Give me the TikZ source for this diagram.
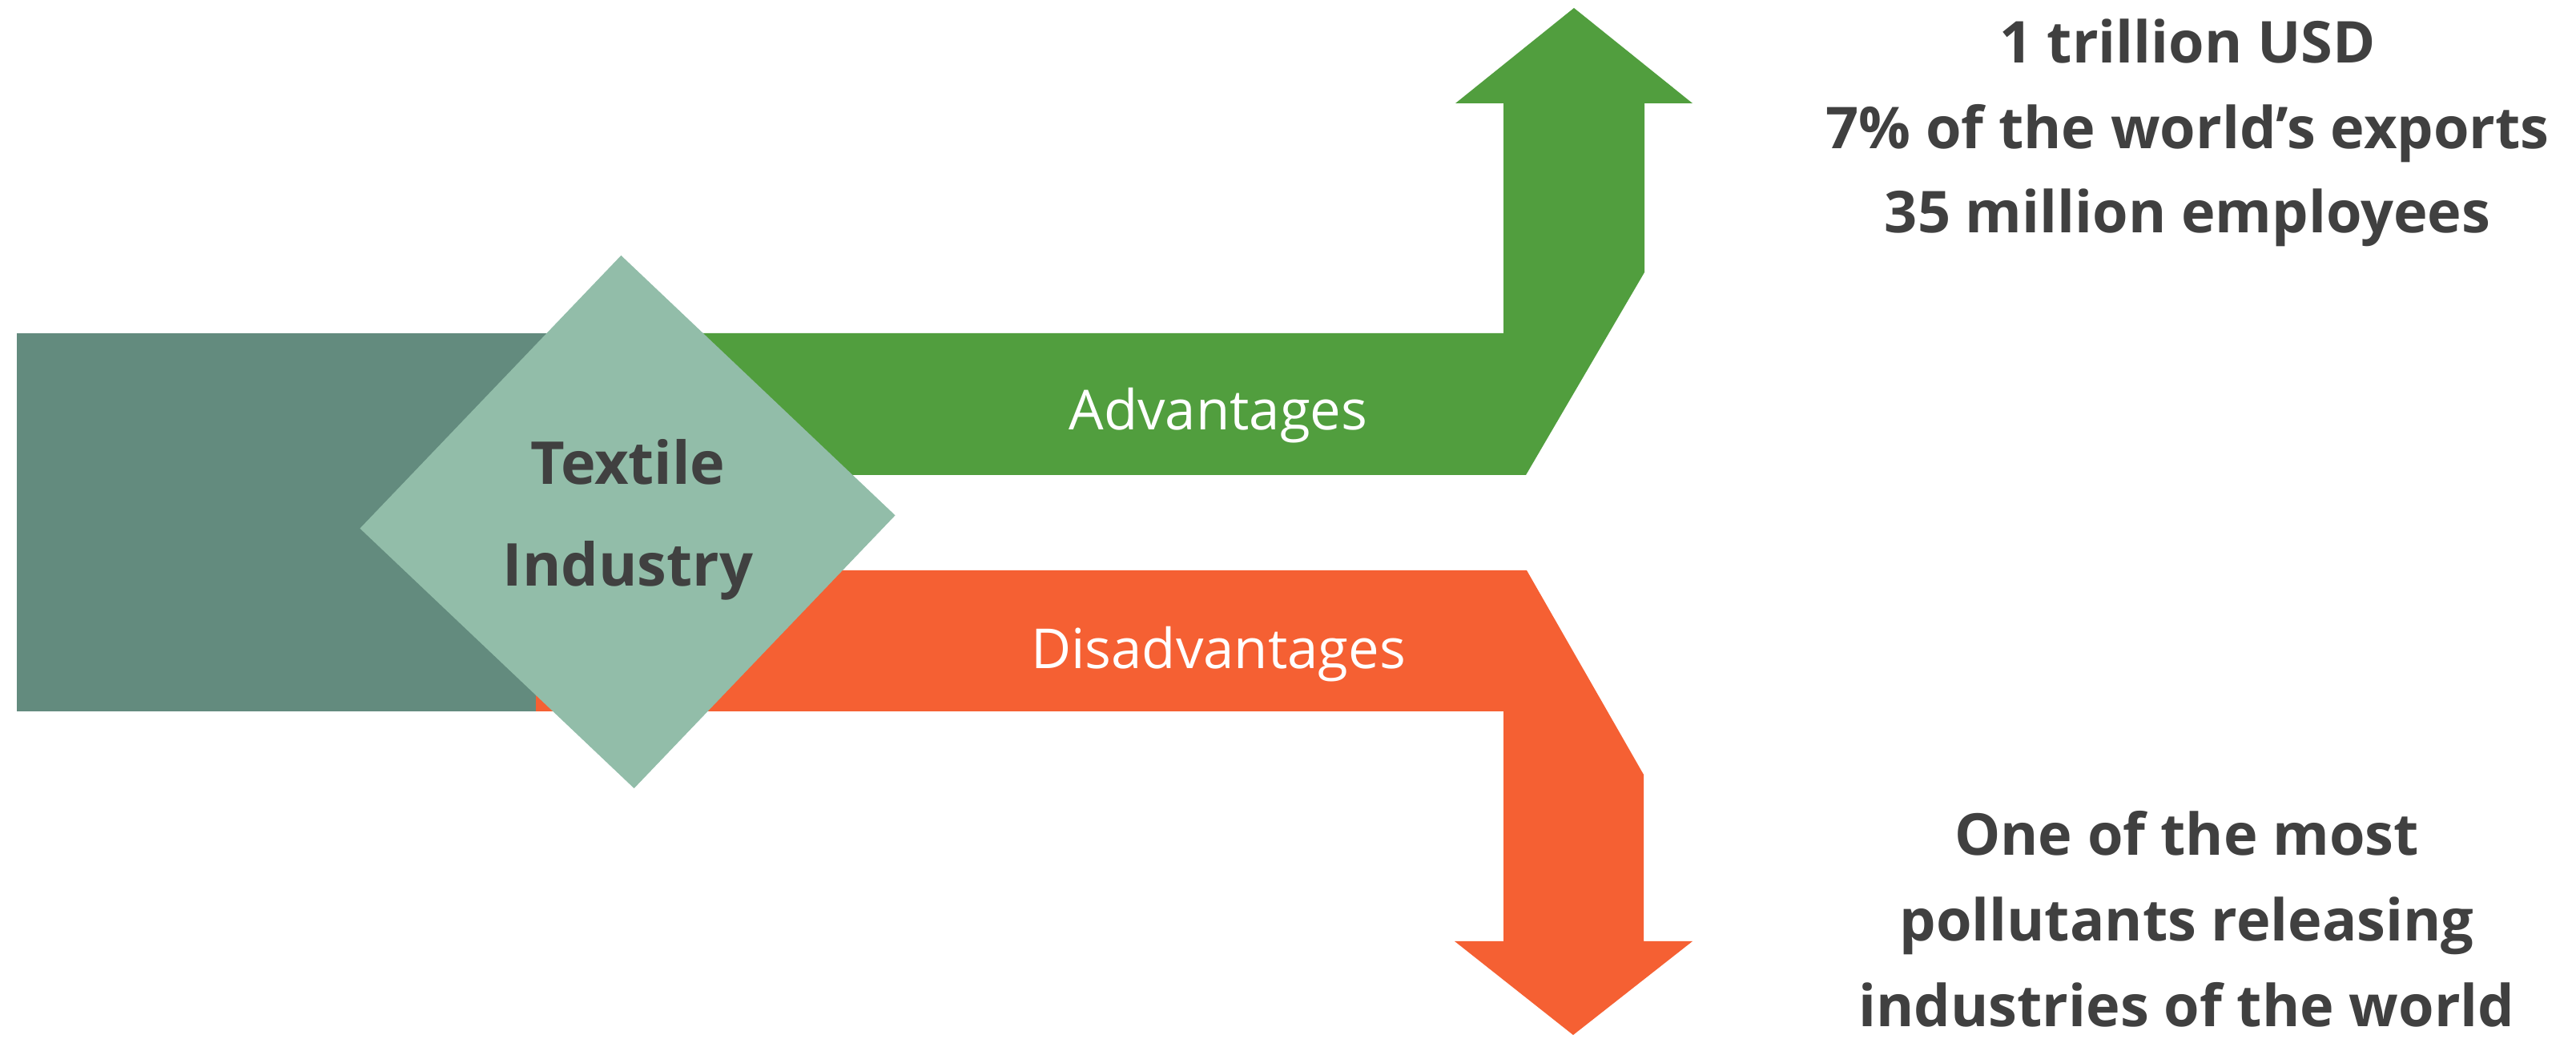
\documentclass[tikz,border=0pt]{standalone}
\usepackage{fontspec}
\setmainfont{Open Sans}
\usepackage{tikz}
\usetikzlibrary{shapes.geometric}

\definecolor{tealdark}{RGB}{99,139,126}
\definecolor{tealpale}{RGB}{146,189,169}
\definecolor{plusgreen}{RGB}{81,158,62}
\definecolor{minusorange}{RGB}{245,96,51}
\definecolor{inkgray}{RGB}{64,64,64}

\begin{document}
\begin{tikzpicture}[scale=1,
    hub/.style={diamond, fill=tealpale, inner sep=0pt,
        minimum width=6.69cm, minimum height=6.66cm, rotate=1.4},
    hublabel/.style={font=\bfseries\fontsize{21}{26}\selectfont, text=inkgray, anchor=base},
    branchlabel/.style={font=\fontsize{19.6}{24}\selectfont, text=white, anchor=base},
    fact/.style={font=\bfseries\fontsize{20.5}{26}\selectfont, text=inkgray, anchor=base}]
\useasboundingbox (0,0) rectangle (32.16,12.97);

% stem on the left
\fill[tealdark] (0.21,4.09) rectangle (7.84,8.81);

% upper branch, turning up
\fill[plusgreen] (7.00,7.04) -- (7.00,8.81) -- (18.77,8.81) -- (18.77,11.68)
    -- (18.17,11.68) -- (19.65,12.87) -- (21.13,11.68) -- (20.53,11.68)
    -- (20.53,9.57) -- (19.05,7.04) -- cycle;

% lower branch, turning down
\fill[minusorange] (6.69,4.09) -- (6.69,5.85) -- (19.06,5.85) -- (20.52,3.30)
    -- (20.52,1.22) -- (21.13,1.22) -- (19.64,0.05) -- (18.16,1.22)
    -- (18.77,1.22) -- (18.77,4.09) -- cycle;

\node[hub] (hub) at (7.835,6.455) {};
\node[hublabel] (textile) at (7.84,6.92) {Textile};
\node[hublabel] (industry) at (7.84,5.65) {Industry};

\node[branchlabel] (adv) at (15.21,7.60) {Advantages};
\node[branchlabel] (disadv) at (15.21,4.62) {Disadvantages};

\node[fact] (gain1) at (27.31,12.18) {1 trillion USD};
\node[fact] (gain2) at (27.31,11.11) {7\% of the world’s exports};
\node[fact] (gain3) at (27.31,10.06) {35 million employees};

\node[fact] (loss1) at (27.30,2.29) {One of the most};
\node[fact] (loss2) at (27.30,1.22) {pollutants releasing};
\node[fact] (loss3) at (27.30,0.15) {industries of the world};

\end{tikzpicture}
\end{document}
